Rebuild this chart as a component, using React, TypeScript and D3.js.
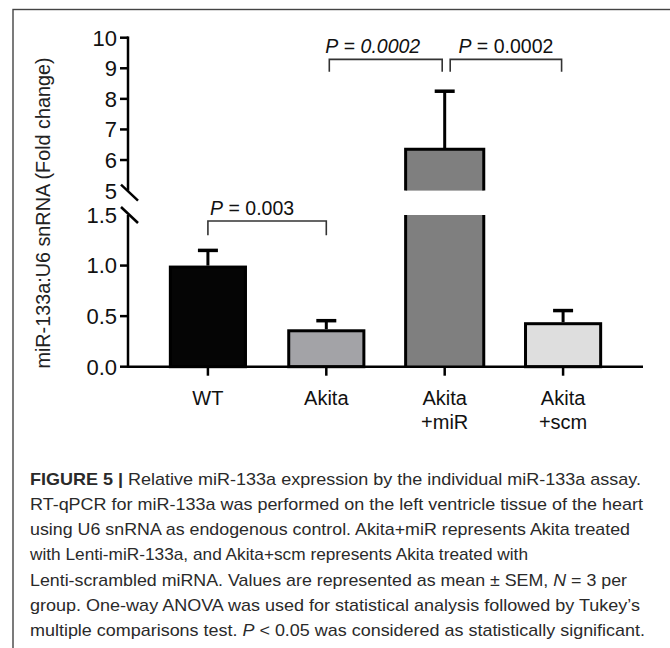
import { useEffect, useRef } from "react"
import * as d3 from "d3"

// groups and values (mean and mean + SEM)
const groups = ["WT", "Akita", "Akita+miR", "Akita+scm"]
const groupLabels = [["WT"], ["Akita"], ["Akita", "+miR"], ["Akita", "+scm"]]
const means = [1.0, 0.37, 6.35, 0.44]
const sems = [0.15, 0.085, 1.9, 0.115]
const fills = ["#050505", "#a3a3a7", "#7f7f7f", "#dedede"]

const lowerTicks = [0, 0.5, 1.0, 1.5]
const upperTicks = [5, 6, 7, 8, 9, 10]
const breakLow = 1.5
const breakHigh = 5

const comparisons = [
  { a: 0, b: 1, level: 1.44, leg: 1.3, p: "0.003", italic: false },
  { a: 1, b: 2, level: 9.29, leg: 8.89, p: "0.0002", italic: true },
  { a: 2, b: 3, level: 9.29, leg: 8.89, p: "0.0002", italic: false },
]

type Seg = { t: string; b?: boolean; i?: boolean }
const caption: Seg[][] = [
  [{ t: "FIGURE 5 |", b: true }, { t: " Relative miR-133a expression by the individual miR-133a assay." }],
  [{ t: "RT-qPCR for miR-133a was performed on the left ventricle tissue of the heart" }],
  [{ t: "using U6 snRNA as endogenous control. Akita+miR represents Akita treated" }],
  [{ t: "with Lenti-miR-133a, and Akita+scm represents Akita treated with" }],
  [{ t: "Lenti-scrambled miRNA. Values are represented as mean \u00b1 SEM, " }, { t: "N", i: true }, { t: " = 3 per" }],
  [{ t: "group. One-way ANOVA was used for statistical analysis followed by Tukey\u2019s" }],
  [{ t: "multiple comparisons test. " }, { t: "P", i: true }, { t: " < 0.05 was considered as statistically significant." }],
]
// rendered width of each caption line in the figure
const captionWidths = [611, 613, 600, 498, 597, 610, 615]

const FONT = "'Liberation Sans', Arial, sans-serif"

export default function App() {
  const ref = useRef<SVGSVGElement>(null)

  useEffect(() => {
    const svg = d3.select(ref.current)
    svg.selectAll("*").remove()

    const x = d3.scaleBand<string>()
      .domain(groups)
      .range([128, 643])
      .paddingInner(0.34)
      .paddingOuter(0.345)

    // broken axis: one polylinear scale, the 1.5..5 stretch is the gap
    const y = d3.scaleLinear()
      .domain([0, breakLow, breakHigh, 10])
      .range([366.7, 215, 190.6, 37.7])

    const cx = (i: number) => (x(groups[i]) as number) + x.bandwidth() / 2

    // frame
    svg.append("rect")
      .attr("x", 13)
      .attr("y", 9.5)
      .attr("width", 720)
      .attr("height", 720)
      .attr("fill", "none")
      .attr("stroke", "#444")
      .attr("stroke-width", 1.4)

    const g = svg.append("g")

    // bars
    groups.forEach((name, i) => {
      const x0 = x(name) as number
      const w = x.bandwidth()
      const m = means[i]
      const top = y(m)
      // error bar
      g.append("line")
        .attr("x1", cx(i)).attr("x2", cx(i))
        .attr("y1", top).attr("y2", y(m + sems[i]))
        .attr("stroke", "#000").attr("stroke-width", 3)
      g.append("line")
        .attr("x1", cx(i) - 10).attr("x2", cx(i) + 10)
        .attr("y1", y(m + sems[i])).attr("y2", y(m + sems[i]))
        .attr("stroke", "#000").attr("stroke-width", 3.5)

      if (m > breakHigh) {
        // lower piece
        g.append("rect")
          .attr("x", x0).attr("y", y(breakLow))
          .attr("width", w).attr("height", y(0) - y(breakLow))
          .attr("fill", fills[i])
        g.append("path")
          .attr("d", `M${x0},${y(breakLow)}V${y(0)}M${x0 + w},${y(breakLow)}V${y(0)}`)
          .attr("stroke", "#000").attr("stroke-width", 3).attr("fill", "none")
        // upper piece
        g.append("rect")
          .attr("x", x0).attr("y", top)
          .attr("width", w).attr("height", y(breakHigh) - top)
          .attr("fill", fills[i])
        g.append("path")
          .attr("d", `M${x0},${y(breakHigh)}V${top}H${x0 + w}V${y(breakHigh)}`)
          .attr("stroke", "#000").attr("stroke-width", 3).attr("fill", "none")
      } else {
        g.append("rect")
          .attr("x", x0 + 1.5).attr("y", top + 1.5)
          .attr("width", w - 3).attr("height", y(0) - top - 1.5)
          .attr("fill", fills[i])
          .attr("stroke", "#000").attr("stroke-width", 3)
      }
    })

    // y axis, lower part
    g.append("line")
      .attr("x1", 128).attr("x2", 128)
      .attr("y1", y(0) + 1.25).attr("y2", y(breakLow))
      .attr("stroke", "#000").attr("stroke-width", 2.5)
    // y axis, upper part
    g.append("line")
      .attr("x1", 128).attr("x2", 128)
      .attr("y1", y(breakHigh)).attr("y2", y(10) - 1.25)
      .attr("stroke", "#000").attr("stroke-width", 2.5)

    // break slashes
    ;[breakLow, breakHigh].forEach((v, k) => {
      const yy = y(v) + (k === 1 ? 2 : 0)
      g.append("line")
        .attr("x1", 121).attr("y1", yy - 8)
        .attr("x2", 138).attr("y2", yy + 8)
        .attr("stroke", "#000").attr("stroke-width", 2.5)
    })

    const tickG = g.append("g").attr("font-family", FONT).attr("font-size", 22).attr("fill", "#111")
    const allTicks = [
      ...lowerTicks.map((v) => ({ v, label: d3.format(".1f")(v) })),
      ...upperTicks.map((v) => ({ v, label: d3.format("d")(v) })),
    ]
    allTicks.forEach(({ v, label }) => {
      if (v !== breakLow && v !== breakHigh) {
        tickG.append("line")
          .attr("x1", 120).attr("x2", 128)
          .attr("y1", y(v)).attr("y2", y(v))
          .attr("stroke", "#000").attr("stroke-width", 2.5)
      }
      tickG.append("text")
        .attr("x", 117)
        .attr("y", y(v))
        .attr("dy", "0.36em")
        .attr("text-anchor", "end")
        .text(label)
    })

    // x axis
    g.append("line")
      .attr("x1", 128).attr("x2", 643)
      .attr("y1", y(0)).attr("y2", y(0))
      .attr("stroke", "#000").attr("stroke-width", 2.5)

    groups.forEach((name, i) => {
      g.append("line")
        .attr("x1", cx(i)).attr("x2", cx(i))
        .attr("y1", y(0)).attr("y2", y(0) + 9)
        .attr("stroke", "#000").attr("stroke-width", 2.5)
      groupLabels[i].forEach((ln, j) => {
        g.append("text")
          .attr("x", cx(i))
          .attr("y", 405 + j * 23.5)
          .attr("text-anchor", "middle")
          .attr("font-family", FONT)
          .attr("font-size", 20)
          .attr("fill", "#111")
          .text(ln)
      })
    })

    // y axis title
    g.append("text")
      .attr("transform", "translate(50,213) rotate(-90)")
      .attr("text-anchor", "middle")
      .attr("font-family", FONT)
      .attr("font-size", 19.8)
      .attr("fill", "#222")
      .text("miR-133a:U6 snRNA (Fold change)")

    // significance brackets
    const labelDx = [-15, -13, 0]
    comparisons.forEach((c, k) => {
      const xa = cx(c.a) + (k === 1 ? 3 : k === 2 ? 5.5 : 0)
      const xb = cx(c.b) - (k === 1 ? 2.5 : k === 2 ? 1.5 : 0)
      g.append("path")
        .attr("d", `M${xa},${y(c.leg)}V${y(c.level)}H${xb}V${y(c.leg)}`)
        .attr("fill", "none")
        .attr("stroke", "#333")
        .attr("stroke-width", 1.6)
      const t = g.append("text")
        .attr("x", (xa + xb) / 2 + labelDx[k])
        .attr("y", y(c.level) - 6.5)
        .attr("text-anchor", "middle")
        .attr("font-family", FONT)
        .attr("font-size", 19.5)
        .attr("fill", "#111")
      t.append("tspan").attr("font-style", "italic").text("P")
      t.append("tspan").text(" = ")
      t.append("tspan").attr("font-style", c.italic ? "italic" : "normal").text(c.p)
    })

    // caption
    const cap = svg.append("g")
      .attr("font-family", FONT)
      .attr("font-size", 17)
      .attr("fill", "#2a2a2a")
    caption.forEach((line, i) => {
      const t = cap.append("text")
        .attr("x", 30)
        .attr("y", 484.7 + i * 25.2)
        .attr("textLength", captionWidths[i])
        .attr("lengthAdjust", "spacingAndGlyphs")
      line.forEach((s) => {
        t.append("tspan")
          .attr("font-weight", s.b ? "bold" : "normal")
          .attr("font-style", s.i ? "italic" : "normal")
          .text(s.t)
      })
    })
  }, [])

  return (
    <div style={{ position: "absolute", left: 0, top: 0, width: 670, height: 648, background: "#fff" }}>
      <svg ref={ref} width={670} height={648} />
    </div>
  )
}
